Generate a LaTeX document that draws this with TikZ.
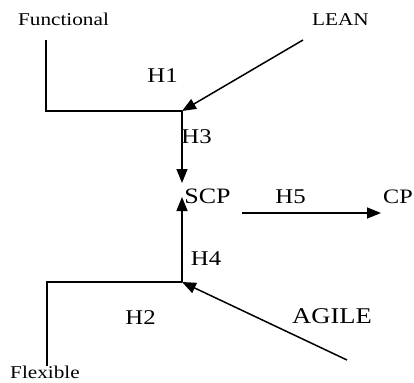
\documentclass[tikz,border=0pt]{standalone}
\usepackage{fontspec}
\setmainfont{Liberation Serif}[FakeStretch=1.18]
\usepackage{tikz}
\usetikzlibrary{arrows.meta}

\tikzset{
  line/.style={line width=1.5pt},
  arr/.style={line width=1.5pt,-{Triangle[length=14pt,width=11pt]}},
  smalltxt/.style={inner sep=0pt,anchor=base,font=\fontsize{18}{18}\selectfont},
  htxt/.style={inner sep=0pt,anchor=base,font=\fontsize{21}{21}\selectfont},
  bigtxt/.style={inner sep=0pt,anchor=base,font=\fontsize{22.5}{22.5}\selectfont}
}

\begin{document}
\begin{tikzpicture}[x=1pt,y=1pt,yscale=-1,xscale=1]
\useasboundingbox (0,0) rectangle (414,382);

% Text Node
\node [smalltxt] (functional) at (63.5,26) {Functional};
% Text Node
\node [smalltxt] (lean) at (340.5,26) {LEAN};
% Text Node
\node [smalltxt] (flexible) at (45,378) {Flexible};
% Text Node
\node [bigtxt] (agile) at (332,323) {AGILE};
% Text Node
\node [htxt,font=\fontsize{22}{22}\selectfont] (scp) at (207.5,203) {SCP};
% Text Node
\node [htxt,anchor=base west,font=\fontsize{20.5}{20.5}\selectfont] (cp) at (383,203) {CP};
% Text Node
\node [htxt] (h1) at (162.5,83) {H1};
% Text Node
\node [htxt] (h2) at (140.5,324) {H2};
% Text Node
\node [htxt] (h3) at (196.5,143) {H3};
% Text Node
\node [htxt] (h4) at (206,265) {H4};
% Text Node
\node [htxt] (h5) at (290.5,203) {H5};

%Coordinates
\coordinate (funcTop) at (46,40);
\coordinate (funcCorner) at (46,111);
\coordinate (topJoin) at (182,111);
\coordinate (scpTop) at (182,183);
\coordinate (leanOut) at (303,40);
\coordinate (flexBot) at (47,366);
\coordinate (flexCorner) at (47,282);
\coordinate (botJoin) at (182,282);
\coordinate (scpBot) at (182,197);
\coordinate (agileOut) at (347,360);
\coordinate (h5In) at (242,213);
\coordinate (h5Out) at (381,213);

%Straight Lines
\draw [line] (funcTop) -- (funcCorner) -- (topJoin);
%Straight Lines
\draw [arr] (leanOut) -- (topJoin);
%Straight Lines
\draw [arr] (topJoin) -- (scpTop);
%Straight Lines
\draw [line] (flexBot) -- (flexCorner) -- (botJoin);
%Straight Lines
\draw [arr] (agileOut) -- (botJoin);
%Straight Lines
\draw [arr] (botJoin) -- (scpBot);
%Straight Lines
\draw [arr] (h5In) -- (h5Out);

\end{tikzpicture}
\end{document}
